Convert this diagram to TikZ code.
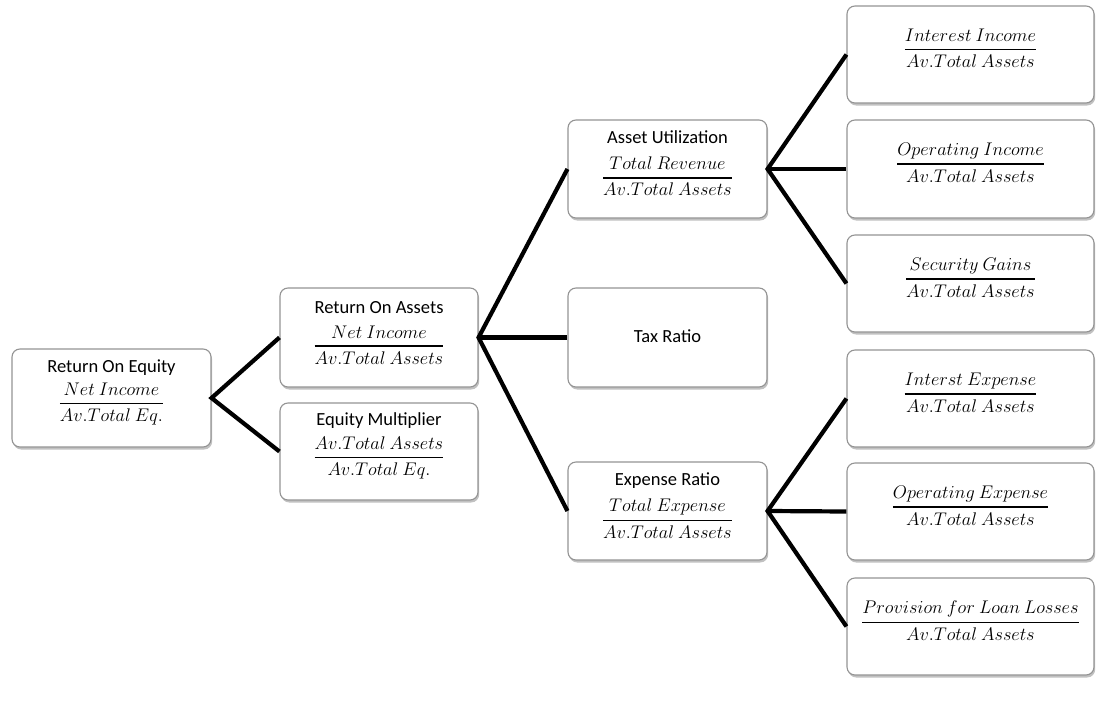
\RequirePackage{fix-cm}
\documentclass[tikz,border=0pt]{standalone}
\usepackage{amsmath}
\usepackage{fontspec}
\setmainfont{Carlito}
\usetikzlibrary{shadows}
\newcommand{\fr}[2]{$\displaystyle\genfrac{}{}{1.5pt}{0}{#1}{#2}$}
\tikzset{
  box/.style={draw=black!42, line width=1.1pt, fill=white, rounded corners=8pt,
    drop shadow={shadow xshift=1.2pt, shadow yshift=-2.5pt, opacity=0.35, fill=black!70},
    inner sep=0pt},
  midbox/.style={box, minimum width=199pt, minimum height=98pt},
  rbox/.style={box, minimum width=247pt, minimum height=97pt},
  ttl/.style={anchor=base, inner sep=0pt, font=\fontsize{18.5}{22}\selectfont},
  frc/.style={anchor=center, inner sep=0pt, font=\fontsize{18.3}{21}\selectfont},
  link/.style={line width=4.2pt, black}
}
\begin{document}
\begin{tikzpicture}[x=1pt,y=-1pt]
\useasboundingbox (0,0) rectangle (1096,715);
% boxes
\node[midbox] (roe) at (111.5,398) {};
\node[midbox, minimum width=198pt, minimum height=99pt] (roa) at (379,337.5) {};
\node[midbox, minimum width=198pt, minimum height=97pt] (em) at (379,451.5) {};
\node[midbox] (au) at (667.5,169) {};
\node[midbox, minimum height=99pt] (tax) at (667.5,337.5) {};
\node[midbox] (er) at (667.5,511) {};
\node[rbox] (r1) at (970.5,54.5) {};
\node[rbox, minimum height=98pt] (r2) at (970.5,169) {};
\node[rbox] (r3) at (970.5,283.5) {};
\node[rbox] (r4) at (970.5,398.5) {};
\node[rbox] (r5) at (970.5,511.5) {};
\node[rbox] (r6) at (970.5,626.5) {};
% texts
\node[ttl] (roe-t) at (111.5,372) {Return On Equity};
\node[frc] (roe-f) at (111.5,404) {\fr{Net\ Income}{Av.Total\ Eq.}};
\node[ttl] (roa-t) at (379,313) {Return On Assets};
\node[frc] (roa-f) at (379,345) {\fr{Net\ Income}{Av.Total\ Assets}};
\node[ttl] (em-t) at (379,425) {Equity Multiplier};
\node[frc] (em-f) at (379,458) {\fr{Av.Total\ Assets}{Av.Total\ Eq.}};
\node[ttl] (au-t) at (667.5,143) {Asset Utilization};
\node[frc] (au-f) at (667.5,176.5) {\fr{Total\ Revenue}{Av.Total\ Assets}};
\node[ttl] (tax-t) at (667.5,342) {Tax Ratio};
\node[ttl] (er-t) at (667.5,485) {Expense Ratio};
\node[frc] (er-f) at (667.5,518.5) {\fr{Total\ Expense}{Av.Total\ Assets}};
\node[frc] (r1-f) at (970.5,48.5) {\fr{Interest\ Income}{Av.Total\ Assets}};
\node[frc] (r2-f) at (970.5,162.5) {\fr{Operating\ Income}{Av.Total\ Assets}};
\node[frc] (r3-f) at (970.5,277.5) {\fr{Security\ Gains}{Av.Total\ Assets}};
\node[frc] (r4-f) at (970.5,392.5) {\fr{Interst\ Expense}{Av.Total\ Assets}};
\node[frc] (r5-f) at (970.5,505.5) {\fr{Operating\ Expense}{Av.Total\ Assets}};
\node[frc] (r6-f) at (970.5,620.5) {\fr{Provision\ for\ Loan\ Losses}{Av.Total\ Assets}};
% connectors
\draw[link] (roa.west) -- (roe.east) -- (em.west);
\draw[link] (au.west) -- (roa.east) -- (er.west);
\draw[link] (roa.east) -- (tax.west);
\draw[link] (r1.west) -- (au.east) -- (r3.west);
\draw[link] (au.east) -- (r2.west);
\draw[link] (r4.west) -- (er.east) -- (r6.west);
\draw[link] (er.east) -- (r5.west);
\end{tikzpicture}
\end{document}
